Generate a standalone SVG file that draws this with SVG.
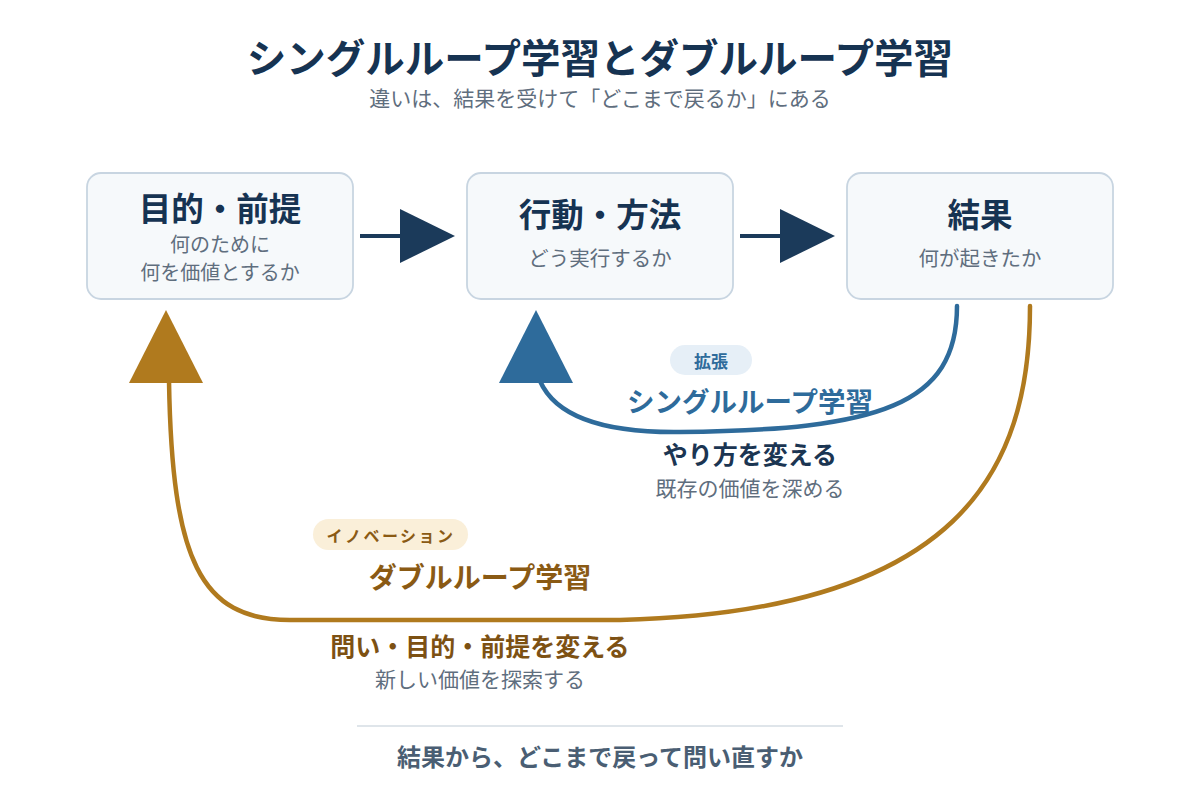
<svg xmlns="http://www.w3.org/2000/svg" width="1200" height="800" viewBox="0 0 1200 800">
<style>
text{font-family:"Noto Sans CJK JP","Noto Sans",sans-serif;text-anchor:middle;dominant-baseline:central}
.box{fill:#f6f9fb;stroke:#c8d5e1;stroke-width:1.8}
.bt{font-size:32.5px;font-weight:700;fill:#163352}
.bs{font-size:20.5px;fill:#5f6e7e}
.bs2{font-size:20px;fill:#5f6e7e}
.dark{fill:#1b3a5a}
</style>
<rect width="1200" height="800" fill="#ffffff"/>
<text x="600" y="55" style="font-size:39.5px;font-weight:700;fill:#163352">シングルループ学習とダブルループ学習</text>
<text x="600" y="97" style="font-size:21px;fill:#5f6e7e">違いは、結果を受けて「どこまで戻るか」にある</text>

<g id="node-purpose">
<rect class="box" x="87" y="173" width="266" height="126" rx="14"/>
<text class="bt" x="220" y="206">目的・前提</text>
<text class="bs2" x="220" y="243">何のために</text>
<text class="bs2" x="220" y="271">何を価値とするか</text>
</g>
<g id="node-action">
<rect class="box" x="467" y="173" width="266" height="126" rx="14"/>
<text class="bt" x="600" y="212">行動・方法</text>
<text class="bs" x="600" y="257">どう実行するか</text>
</g>
<g id="node-result">
<rect class="box" x="847" y="173" width="266" height="126" rx="14"/>
<text class="bt" x="980" y="212">結果</text>
<text class="bs" x="980" y="257">何が起きたか</text>
</g>

<g id="connectors">
<line x1="360" y1="236" x2="402" y2="236" stroke="#1b3a5a" stroke-width="4"/>
<polygon class="dark" points="400,209 455,236 400,263"/>
<line x1="740" y1="236" x2="782" y2="236" stroke="#1b3a5a" stroke-width="4"/>
<polygon class="dark" points="780,209 835,236 780,263"/>
<path d="M957,306 C957,405 880,430 680,432 C600,433 555,415 540,381" fill="none" stroke="#2e6b9b" stroke-width="4.5" stroke-linecap="round"/>
<polygon points="536,310 573,383 499,383" fill="#2e6b9b"/>
<path d="M1030,306 C1030,470 960,612 620,620 L290,620 C200,620 172,560 169,381" fill="none" stroke="#b07a1e" stroke-width="4.5" stroke-linecap="round"/>
<polygon points="166,310 203,383 129,383" fill="#b07a1e"/>
</g>

<g id="label-single">
<rect x="670" y="345" width="82" height="30" rx="15" fill="#e6eff7"/>
<text x="711" y="360" style="font-size:17px;font-weight:700;fill:#2e6b9b">拡張</text>
<text x="750" y="400" style="font-size:27.5px;font-weight:700;fill:#2e6b9b">シングルループ学習</text>
<text x="750" y="453" style="font-size:25px;font-weight:700;fill:#1b3552">やり方を変える</text>
<text x="750" y="487" style="font-size:21px;fill:#5f6e7e">既存の価値を深める</text>
</g>
<g id="label-double">
<rect x="313" y="519" width="155" height="31" rx="15.5" fill="#faefd9"/>
<text x="391" y="535" style="font-size:16px;font-weight:700;fill:#8a5a14;letter-spacing:2.5px">イノベーション</text>
<text x="480" y="576" style="font-size:28px;font-weight:700;fill:#8a5a14">ダブルループ学習</text>
<text x="480" y="645" style="font-size:25px;font-weight:700;fill:#7d5113">問い・目的・前提を変える</text>
<text x="480" y="678" style="font-size:21px;fill:#5f6e7e">新しい価値を探索する</text>
</g>

<line x1="357" y1="726" x2="843" y2="726" stroke="#d5dde3" stroke-width="1.5"/>
<text x="600" y="755" style="font-size:24px;font-weight:700;fill:#4a5e73">結果から、どこまで戻って問い直すか</text>
</svg>
